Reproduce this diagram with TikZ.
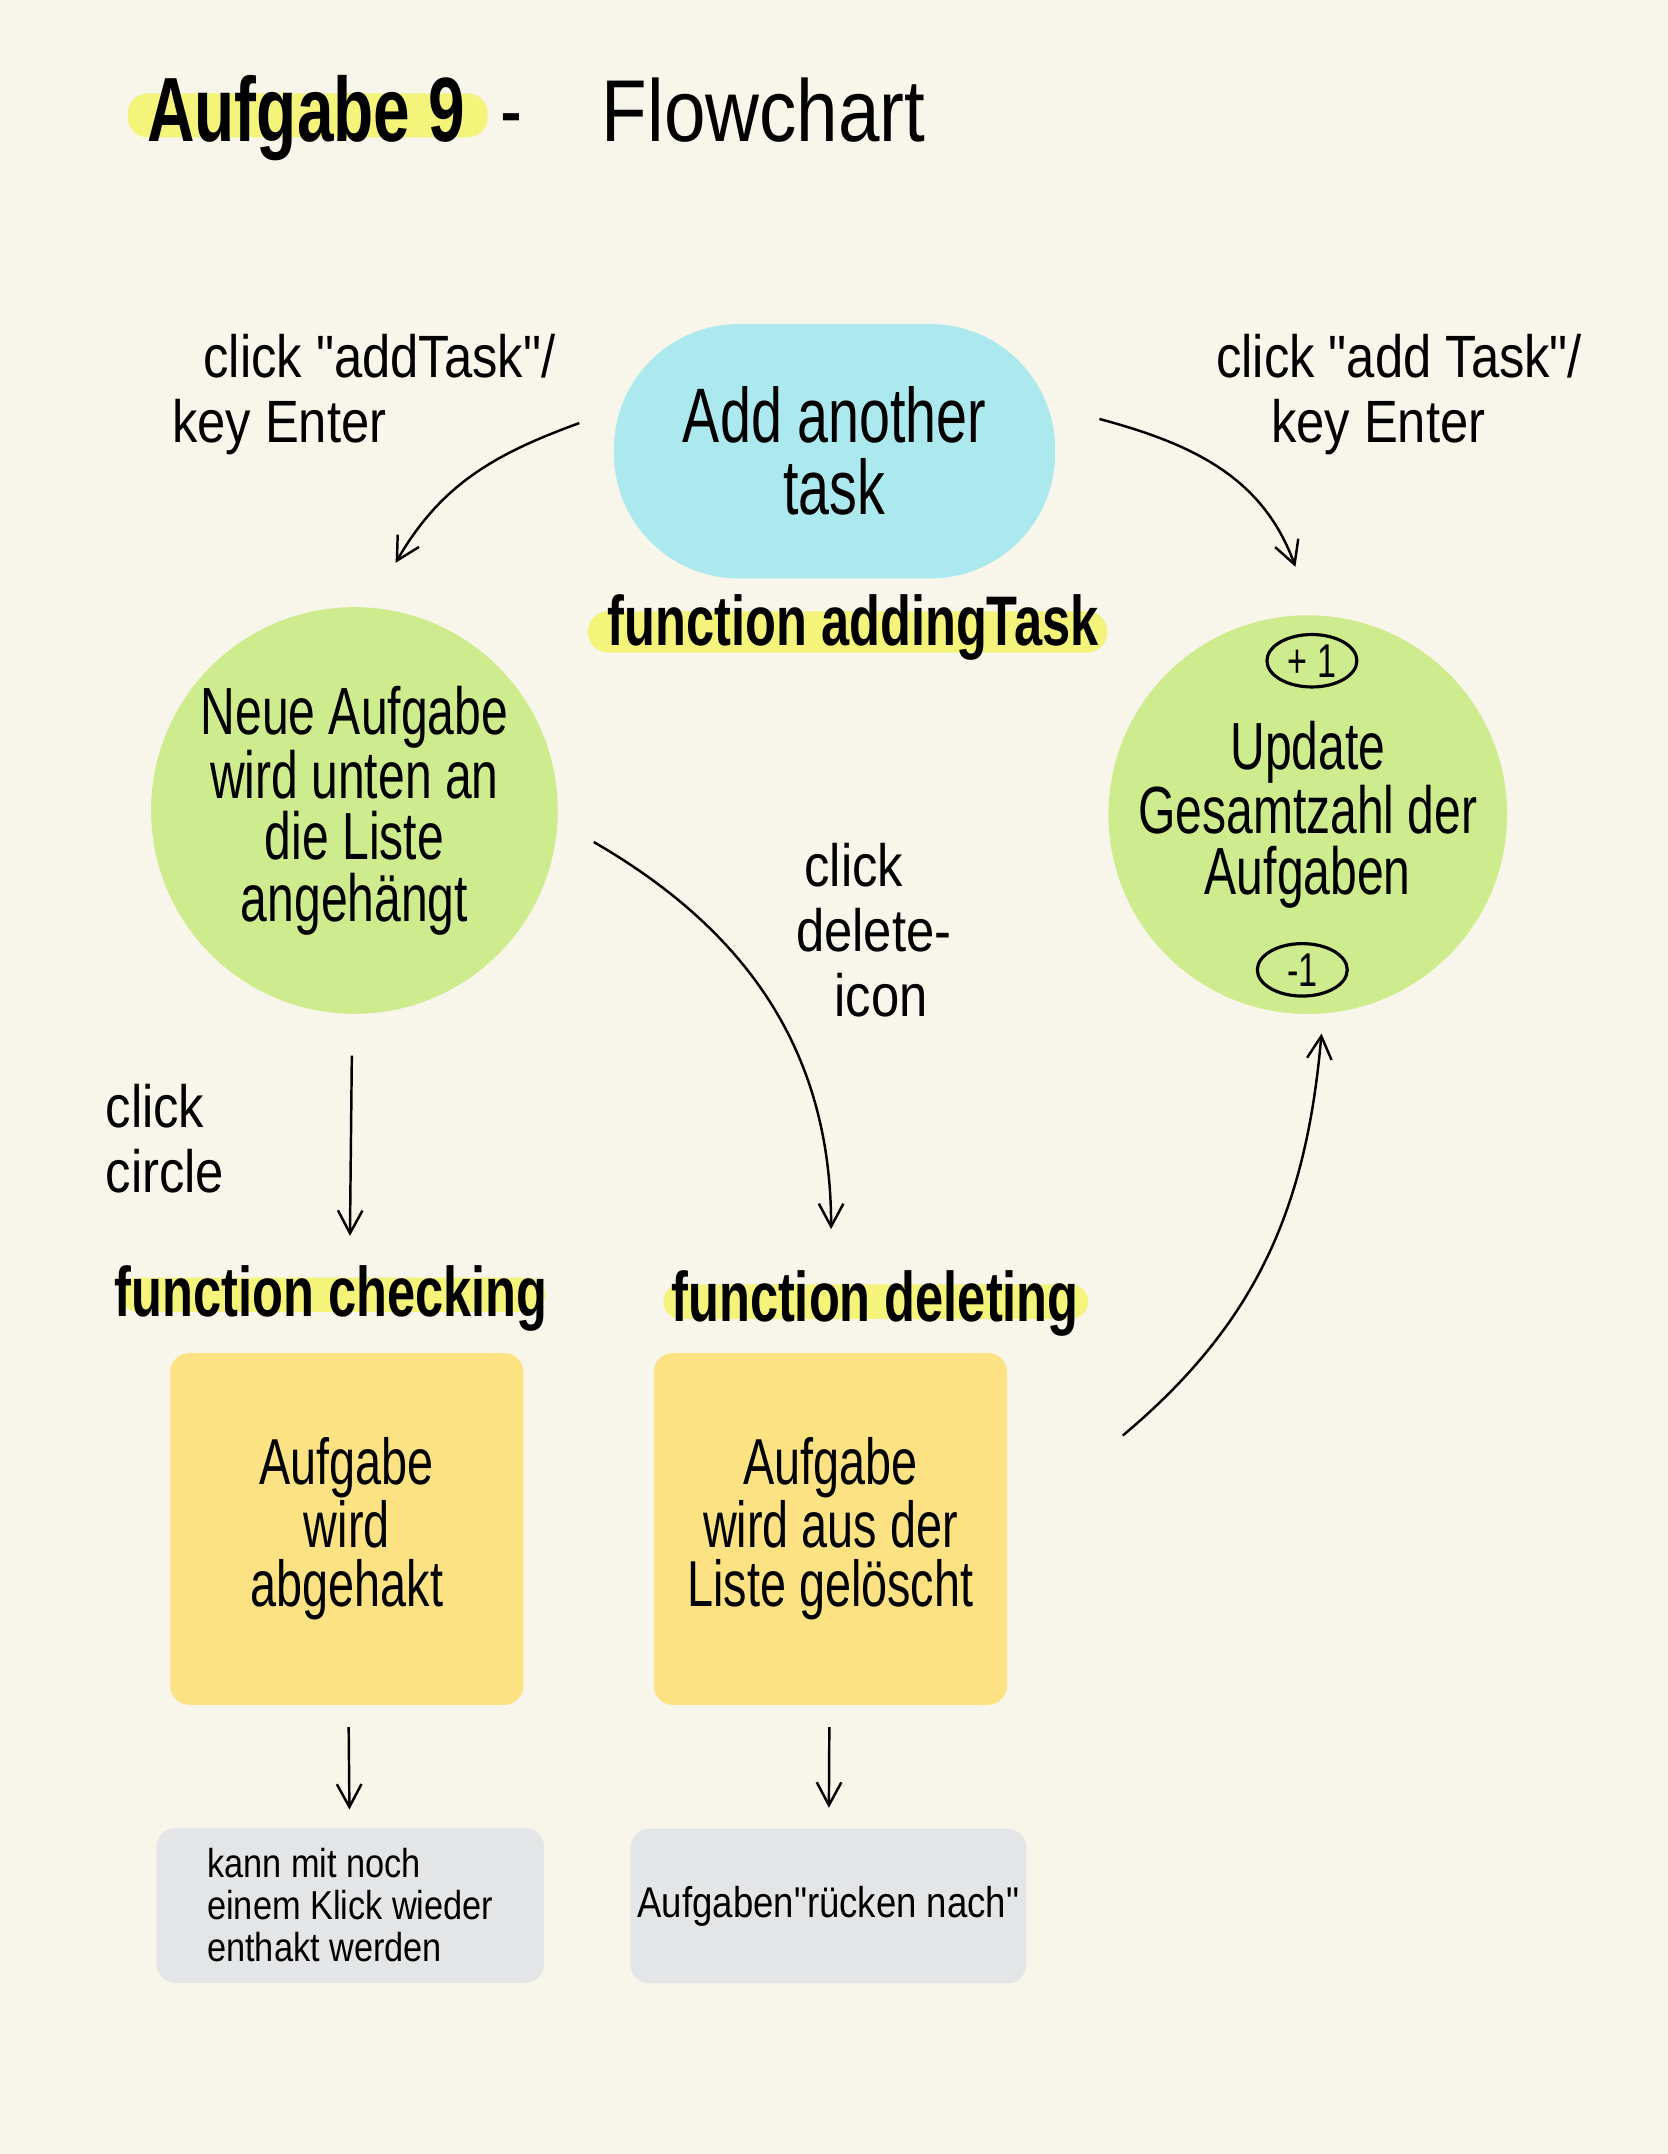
\documentclass[tikz,border=0pt]{standalone}
\usepackage{fontspec}
\setmainfont[FakeStretch=0.72,Ligatures=TeXOff]{Liberation Sans}
\newfontfamily\handwide[FakeStretch=0.85,Ligatures=TeXOff]{Liberation Sans}
\usetikzlibrary{arrows.meta,shapes.geometric}

\definecolor{paper}{HTML}{F8F6EA}
\definecolor{hlyellow}{HTML}{F4F37A}
\definecolor{taskblue}{HTML}{ACE9EE}
\definecolor{stategreen}{HTML}{CEEC8E}
\definecolor{actionyellow}{HTML}{FDE283}
\definecolor{notegray}{HTML}{E4E5E6}

\tikzstyle{hl} = [fill=hlyellow,rounded corners=0.4cm]
\tikzstyle{title} = [anchor=base west,inner sep=0pt,font=\fontsize{52}{52}\selectfont]
\tikzstyle{taskbox} = [rectangle,rounded corners=2.5cm,fill=taskblue,minimum width=8.83cm,minimum height=5.09cm,align=center,font=\fontsize{44}{41}\selectfont]
\tikzstyle{state} = [circle,fill=stategreen,inner sep=0pt,align=center,font=\fontsize{38}{35}\selectfont]
\tikzstyle{counter} = [ellipse,draw,line width=1.8pt,minimum width=1.8cm,minimum height=1.05cm,inner sep=0pt,font=\fontsize{27}{27}\selectfont]
\tikzstyle{action} = [rectangle,rounded corners=0.38cm,fill=actionyellow,minimum width=7.07cm,minimum height=7.04cm,align=center,font=\fontsize{37}{34}\selectfont]
\tikzstyle{note} = [rectangle,rounded corners=0.38cm,fill=notegray,minimum height=3.1cm,align=left,font=\handwide\fontsize{23}{24}\selectfont]
\tikzstyle{funclabel} = [anchor=base,inner sep=0pt,font=\bfseries\fontsize{40}{40}\selectfont]
\tikzstyle{event} = [inner sep=0pt,align=left,font=\handwide\fontsize{34}{37}\selectfont]
\tikzstyle{flow} = [-{Straight Barb[length=13pt,width=14pt]},line width=1.4pt]

\begin{document}
\begin{tikzpicture}[x=0.0275cm,y=0.0275cm]
		\fill[paper] (0,0) rectangle (1214,1568);
		\useasboundingbox (0,0) rectangle (1214,1568);
		
		\fill[hl] (93,1468) rectangle (355,1500);
		\fill[hl] (428,1093) rectangle (806,1123);
		\fill[hl,rounded corners=0.34cm] (88,613) rectangle (397,638);
		\fill[hl,rounded corners=0.34cm] (483,608) rectangle (792,633);
		
		\node[title] (head) at (107,1465) {{\bfseries Aufgabe 9}\hspace{0.7cm}-\hspace{1.6cm}{\handwide\fontsize{50}{50}\selectfont Flowchart}};
		
		\node[taskbox] (add) at (607.5,1239.5) {Add another\\task};
		\node[funclabel] (fadd) at (621,1098) {function addingTask};
		\node[state,minimum size=8.14cm] (neue) at (258,978) {Neue Aufgabe\\wird unten an\\die Liste\\angehängt};
		\node[state,minimum size=7.98cm] (upd) at (952,975) {Update\\Gesamtzahl der\\Aufgaben};
		\node[counter] (plus) at (955,1087) {+ 1};
		\node[counter] (minus) at (948,862) {-1};
		
		\node[funclabel] (fchk) at (241,610) {function checking};
		\node[funclabel] (fdel) at (637,606) {function deleting};
		\node[action] (chk) at (252.5,455) {Aufgabe\\wird\\abgehakt};
		\node[action] (del) at (604.5,455) {Aufgabe\\wird aus der\\Liste gelöscht};
		\node[note,minimum width=7.76cm] (undo) at (255,181) {kann mit noch\\einem Klick wieder\\enthakt werden};
		\node[note,minimum width=7.92cm,font=\handwide\fontsize{24.5}{25}\selectfont] (moveup) at (603,180.5) {Aufgaben"rücken nach"};
		
		\node[event,anchor=west] (keyl) at (125,1280.5) {\hspace*{0.63cm}click "addTask"/\\key Enter};
		\node[event,anchor=west] (keyr) at (885,1280.5) {click "add Task"/\\\hspace*{1.1cm}key Enter};
		\node[event] (ecircle) at (120,739) {click\\circle};
		\node[event,align=center] (edel) at (636,891) {click\hspace*{0.8cm}\\delete-\\\hspace*{0.3cm}icon};
		
		\draw[flow] ([shift={(-25,20.5)}]add.west) to[out=200,in=60] ([shift={(30,32)}]neue.north);
		\draw[flow] ([shift={(32,23.5)}]add.east) to[out=-15,in=110] ([shift={(-9,35)}]upd.north);
		\draw[flow,shorten <=0.83cm,shorten >=2.34cm] (neue) -- (chk);
		\draw[flow] ([shift={(26,-23)}]neue.east) to[out=-30,in=90] ([shift={(0.5,90)}]del.north);
		\draw[flow] ([shift={(84,68)}]del.east) to[out=40,in=-95] ([shift={(10,-14)}]upd.south);
		\draw[flow,shorten <=0.44cm,shorten >=0.36cm] (chk) -- (undo);
		\draw[flow,shorten <=0.44cm,shorten >=0.41cm] (del) -- (moveup);
\end{tikzpicture}
\end{document}
